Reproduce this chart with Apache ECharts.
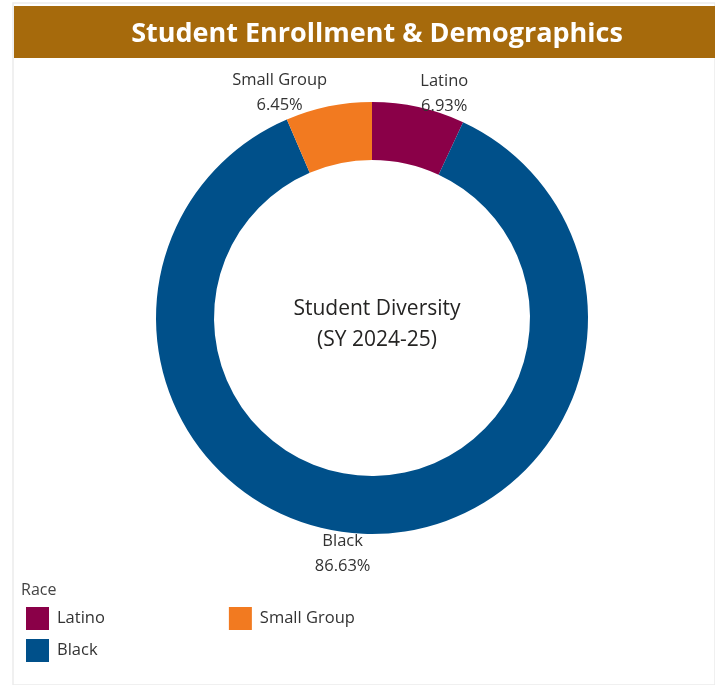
<!DOCTYPE html>
<html>
<head>
<meta charset="utf-8">
<script src="https://cdn.jsdelivr.net/npm/echarts@6/dist/echarts.min.js"></script>
<style>
  html, body { margin: 0; padding: 0; background: #ffffff; }
  #chart { width: 715px; height: 685px; }
</style>
</head>
<body>
<div id="chart"></div>
<script>
// Race groups in drawing order (clockwise from 12 o'clock)
const categories = ['Latino', 'Black', 'Small Group'];
// Share of enrolled students, in percent
const shares = [6.93, 86.63, 6.45];
const colors = ['#8A0048', '#00508A', '#F27A20'];
// Legend row order
const legendRow1 = ['Latino', 'Small Group'];
const legendRow2 = ['Black'];

const FONT = '"Open Sans", "Noto Sans", sans-serif';

const chart = echarts.init(document.getElementById('chart'), null, { renderer: 'canvas' });

const option = {
  animation: false,
  backgroundColor: '#ffffff',
  graphic: [
    // panel frame
    { type: 'rect', shape: { x: 13, y: 3, width: 702, height: 682 },
      style: { fill: '#ffffff', stroke: '#ebebeb', lineWidth: 1.5 }, z: -10 },
    // heading banner
    { type: 'rect', shape: { x: 14, y: 6, width: 701, height: 52 },
      style: { fill: '#A66A0C' }, z: -5 }
  ],
  title: [
    {
      text: 'Student Enrollment & Demographics',
      left: 372, top: 16, textAlign: 'center',
      textStyle: { color: '#ffffff', fontFamily: FONT, fontWeight: 'bold', fontSize: 27 }
    },
    {
      text: 'Student Diversity\n(SY 2024-25)',
      left: 372, top: 289, textAlign: 'center',
      textStyle: { color: '#252423', fontFamily: FONT, fontWeight: 'normal', fontSize: 21, lineHeight: 31 }
    },
    {
      text: 'Race',
      left: 21, top: 582, padding: 0,
      textStyle: { color: '#444444', fontFamily: FONT, fontWeight: 'normal', fontSize: 16 }
    }
  ],
  legend: [
    {
      data: legendRow1, left: 26, top: 607, padding: 0, orient: 'horizontal',
      itemWidth: 23, itemHeight: 23, itemGap: 124, icon: 'rect',
      textStyle: { color: '#333333', fontFamily: FONT, fontSize: 16.5, padding: [2, 0, 0, 3] }
    },
    {
      data: legendRow2, left: 26, top: 639, padding: 0, orient: 'horizontal',
      itemWidth: 23, itemHeight: 23, icon: 'rect',
      textStyle: { color: '#333333', fontFamily: FONT, fontSize: 16.5, padding: [2, 0, 0, 3] }
    }
  ],
  series: [
    {
      type: 'pie',
      center: [372, 318],
      radius: [158, 216],
      startAngle: 90,
      clockwise: true,
      avoidLabelOverlap: true,
      itemStyle: { borderWidth: 0 },
      emphasis: { disabled: true },
      label: {
        show: true,
        position: 'outside',
        distanceToLabelLine: -2,
        padding: [6, 0, 0, 0],
        color: '#333333',
        fontFamily: FONT,
        fontSize: 16.5,
        lineHeight: 25,
        formatter: (p) => '{n|' + p.name + '}\n{v|' + p.value.toFixed(2) + '%}',
        rich: {
          n: { align: 'center', fontFamily: FONT, fontSize: 16.5, lineHeight: 25, color: '#333333' },
          v: { align: 'center', fontFamily: FONT, fontSize: 16.5, lineHeight: 25, color: '#333333' }
        }
      },
      labelLine: { show: false, length: 17, length2: 0 },
      data: categories.map((name, i) => ({
        name: name,
        value: shares[i],
        itemStyle: { color: colors[i] }
      }))
    }
  ]
};

chart.setOption(option);
</script>
</body>
</html>
